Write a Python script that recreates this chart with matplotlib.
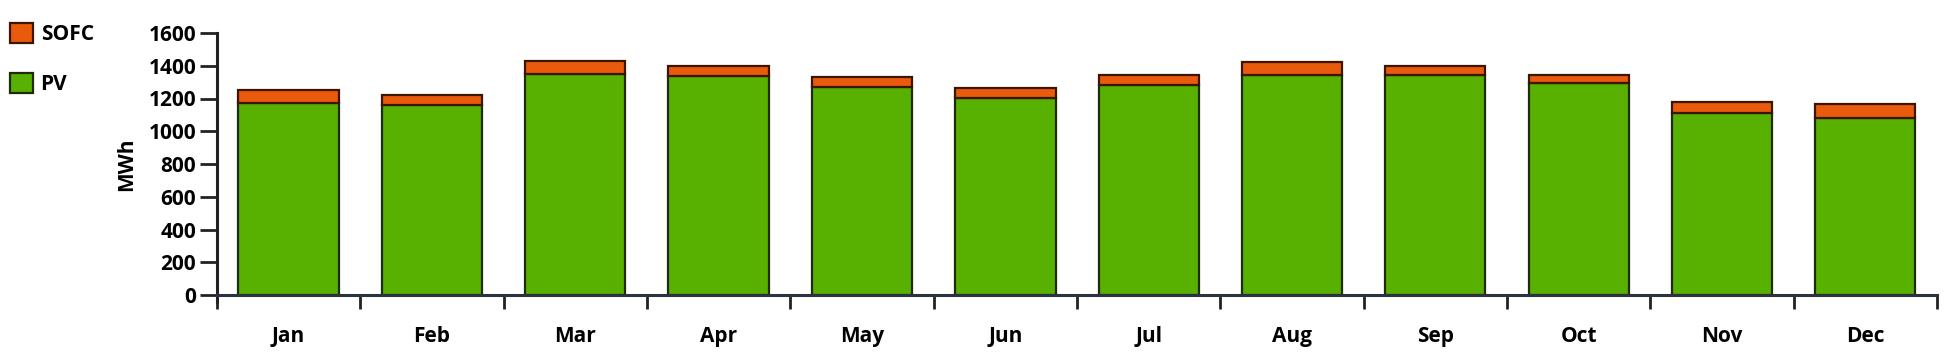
"""
Monthly energy output, PV + SOFC stacked bars.
"""
import matplotlib
matplotlib.use("Agg")
import matplotlib.pyplot as plt
import numpy as np

matplotlib.rcParams.update({
    "font.family": ["Open Sans", "DejaVu Sans"],
    "font.size": 15,
    "font.weight": "bold",
})

months = ["Jan", "Feb", "Mar", "Apr", "May", "Jun",
          "Jul", "Aug", "Sep", "Oct", "Nov", "Dec"]
pv = [1175, 1160, 1350, 1335, 1270, 1205, 1285, 1345, 1345, 1295, 1110, 1080]
sofc = [75, 60, 80, 65, 60, 60, 60, 75, 55, 50, 70, 85]
yticks = [0, 200, 400, 600, 800, 1000, 1200, 1400, 1600]

C = {"pv": "#58b000", "sofc": "#ea5a0c", "edge": "#1f2a0a", "axis": "#222222"}

fig = plt.figure(figsize=(19.5, 3.61), dpi=100)
ax = fig.add_axes([217 / 1950, 1 - 295 / 361, 1720 / 1950, 262 / 361])

x = np.arange(len(months))
b_pv = ax.bar(x, pv, width=0.7, color=C["pv"], edgecolor=C["edge"],
              linewidth=1.6, label="PV", zorder=2)
b_sofc = ax.bar(x, sofc, width=0.7, bottom=pv, color=C["sofc"],
                edgecolor="#3a1500", linewidth=1.6, label="SOFC", zorder=2)

ax.set_xlim(-0.5, len(months) - 0.5)
ax.set_ylim(0, 1600)
ax.set_yticks(yticks)
ax.set_yticklabels([str(v) for v in yticks])
ax.set_xticks(x)
ax.set_xticklabels(months)
ax.set_xticks(np.arange(-0.5, len(months)), minor=True)
ax.tick_params(axis="x", which="major", length=0, pad=22)
ax.tick_params(axis="x", which="minor", length=10, width=2, color=C["axis"])
ax.tick_params(axis="y", length=12, width=2, color=C["axis"], pad=3)

for s in ("top", "right"):
    ax.spines[s].set_visible(False)
ax.spines["left"].set_linewidth(2.2)
ax.spines["left"].set_color(C["axis"])
ax.spines["left"].set_bounds(-40, 1600)
ax.spines["bottom"].set_linewidth(2.2)
ax.spines["bottom"].set_color("#2b3340")
ax.spines["bottom"].set_zorder(3)

ax.set_ylabel("MWh", fontsize=15, fontweight="bold", labelpad=8)

fig.legend(handles=[b_sofc, b_pv], loc="upper left",
           bbox_to_anchor=(0.0, 0.965), frameon=False, borderpad=0,
           handlelength=1.1, handleheight=1.1, handletextpad=0.35,
           labelspacing=1.35, prop={"size": 15, "weight": "bold"})

fig.savefig("out.png", dpi=100)
